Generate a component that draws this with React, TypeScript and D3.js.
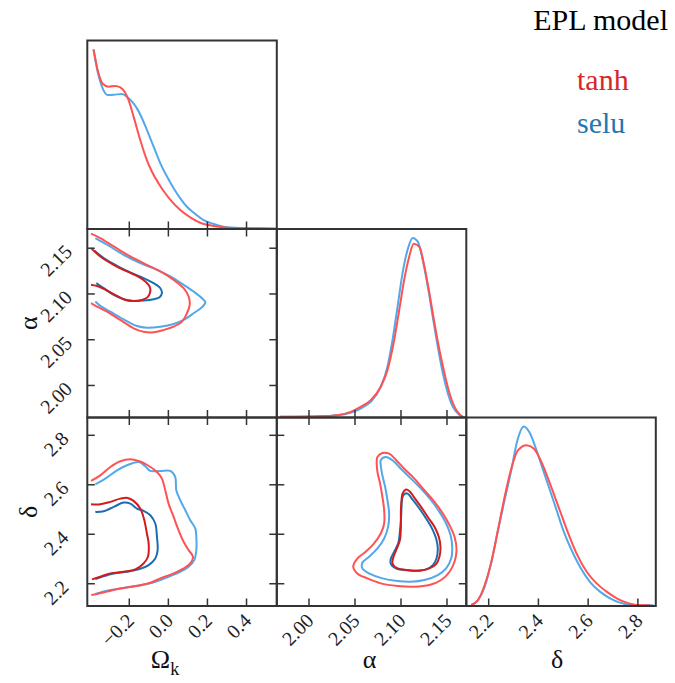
import React, { useRef, useEffect } from 'react';
import * as d3 from 'd3';

// axis ranges and ticks
const omegaDomain = [-0.415, 0.555];
const alphaDomain = [1.965, 2.171];
const deltaDomain = [2.11, 2.872];

const omegaTicks = [-0.2, 0.0, 0.2, 0.4];
const omegaTickLabels = ['\u22120.2', '0.0', '0.2', '0.4'];
const alphaTicks = [2.0, 2.05, 2.1, 2.15];
const alphaTickLabels = ['2.00', '2.05', '2.10', '2.15'];
const deltaTicks = [2.2, 2.4, 2.6, 2.8];
const deltaTickLabels = ['2.2', '2.4', '2.6', '2.8'];

const seriesNames = ['tanh', 'selu'];

// 1D marginals: [value, normalised density]
const tanhOmega = [[-0.383,1.0],[-0.362,0.886],[-0.335,0.808],[-0.306,0.793],[-0.272,0.797],[-0.246,0.789],[-0.224,0.765],[-0.204,0.719],[-0.178,0.626],[-0.144,0.496],[-0.110,0.384],[-0.084,0.319],[-0.050,0.254],[-0.016,0.199],[0.018,0.152],[0.061,0.106],[0.112,0.065],[0.163,0.035],[0.232,0.017],[0.317,0.006],[0.402,0.004],[0.487,0.002],[0.56,0.0]];
const seluOmega = [[-0.383,1.0],[-0.362,0.876],[-0.340,0.793],[-0.311,0.747],[-0.280,0.748],[-0.238,0.752],[-0.212,0.737],[-0.186,0.709],[-0.161,0.672],[-0.135,0.617],[-0.110,0.552],[-0.0755,0.459],[-0.041,0.366],[-0.007,0.292],[0.027,0.227],[0.061,0.171],[0.095,0.124],[0.138,0.084],[0.180,0.050],[0.232,0.028],[0.283,0.013],[0.368,0.006],[0.487,0.004],[0.56,0.002]];

const tanhAlpha = [[1.9686,0.0035],[2.0124,0.007],[2.0306,0.013],[2.0452,0.031],[2.0561,0.059],[2.0671,0.097],[2.078,0.171],[2.0853,0.264],[2.0926,0.432],[2.0981,0.599],[2.1035,0.767],[2.109,0.897],[2.1138,0.968],[2.12,0.950],[2.1254,0.842],[2.1309,0.693],[2.1364,0.525],[2.1418,0.376],[2.1473,0.246],[2.1528,0.134],[2.1582,0.059],[2.1637,0.018],[2.1674,0.0035]];
const seluAlpha = [[1.9686,0.0035],[2.0124,0.007],[2.0306,0.013],[2.0452,0.026],[2.0561,0.050],[2.0671,0.087],[2.078,0.171],[2.0853,0.283],[2.0908,0.432],[2.0963,0.618],[2.1017,0.804],[2.1072,0.935],[2.1127,1.0],[2.1181,0.981],[2.1236,0.879],[2.1291,0.730],[2.1345,0.562],[2.140,0.395],[2.1455,0.246],[2.151,0.134],[2.1564,0.059],[2.1619,0.022],[2.1655,0.007],[2.170,0.0]];

const tanhDelta = [[2.130,0.006],[2.157,0.033],[2.184,0.117],[2.211,0.247],[2.2375,0.423],[2.264,0.608],[2.291,0.766],[2.318,0.868],[2.352,0.896],[2.381,0.877],[2.412,0.803],[2.439,0.710],[2.466,0.608],[2.493,0.506],[2.520,0.404],[2.553,0.293],[2.594,0.191],[2.634,0.126],[2.674,0.080],[2.715,0.043],[2.755,0.019],[2.795,0.006],[2.849,0.004]];
const seluDelta = [[2.130,0.006],[2.157,0.033],[2.184,0.108],[2.211,0.247],[2.2375,0.423],[2.264,0.590],[2.291,0.757],[2.314,0.915],[2.341,1.0],[2.365,0.965],[2.392,0.868],[2.419,0.757],[2.446,0.646],[2.473,0.534],[2.4996,0.423],[2.533,0.312],[2.567,0.219],[2.607,0.135],[2.6475,0.080],[2.688,0.043],[2.728,0.019],[2.7685,0.006],[2.809,0.004],[2.8625,0.004]];

// 2D contours (68% inner, 95% outer): [x value, y value]
// Omega_k vs alpha (open at the left edge)
const tanhOmegaAlpha68 = [[-0.396,2.1501],[-0.3485,2.141],[-0.280,2.1319],[-0.212,2.1246],[-0.161,2.1198],[-0.118,2.1136],[-0.096,2.1081],[-0.0926,2.1027],[-0.106,2.0965],[-0.135,2.0935],[-0.178,2.0924],[-0.2205,2.0935],[-0.263,2.0979],[-0.314,2.1038],[-0.357,2.1081],[-0.396,2.11]];
const tanhOmegaAlpha95 = [[-0.396,2.1659],[-0.3485,2.1611],[-0.280,2.152],[-0.195,2.141],[-0.110,2.1319],[-0.041,2.1246],[0.027,2.1154],[0.078,2.1063],[0.1036,2.0972],[0.109,2.088],[0.095,2.0789],[0.0695,2.0698],[0.027,2.0643],[-0.024,2.0607],[-0.0755,2.0581],[-0.127,2.0588],[-0.178,2.0625],[-0.246,2.0716],[-0.314,2.0807],[-0.3655,2.0862],[-0.396,2.0899]];
const seluOmegaAlpha68 = [[-0.379,2.1476],[-0.331,2.1392],[-0.263,2.1308],[-0.195,2.1235],[-0.127,2.1173],[-0.0755,2.1118],[-0.041,2.1063],[-0.033,2.1008],[-0.045,2.0965],[-0.0755,2.0943],[-0.127,2.0928],[-0.178,2.0924],[-0.229,2.0943],[-0.280,2.099],[-0.331,2.1063],[-0.369,2.1118]];
const seluOmegaAlpha95 = [[-0.374,2.1611],[-0.314,2.1538],[-0.229,2.1428],[-0.144,2.1337],[-0.0585,2.1264],[0.010,2.1191],[0.078,2.11],[0.129,2.1027],[0.172,2.0954],[0.189,2.0906],[0.172,2.0855],[0.129,2.0789],[0.078,2.0716],[0.027,2.0672],[-0.041,2.0643],[-0.110,2.0632],[-0.161,2.065],[-0.229,2.0723],[-0.297,2.0807],[-0.3485,2.087],[-0.374,2.0917]];

// Omega_k vs delta (open at the left edge)
const tanhOmegaDelta68 = [[-0.396,2.5214],[-0.3485,2.5214],[-0.297,2.531],[-0.246,2.544],[-0.2086,2.547],[-0.178,2.535],[-0.144,2.504],[-0.123,2.457],[-0.110,2.403],[-0.101,2.363],[-0.1045,2.309],[-0.127,2.282],[-0.169,2.258],[-0.229,2.2485],[-0.297,2.2418],[-0.3485,2.2284],[-0.391,2.2176]];
const tanhOmegaDelta95 = [[-0.396,2.6155],[-0.3485,2.638],[-0.297,2.672],[-0.246,2.695],[-0.195,2.703],[-0.152,2.696],[-0.110,2.681],[-0.0585,2.652],[-0.033,2.625],[-0.016,2.578],[0.001,2.524],[0.027,2.470],[0.052,2.4166],[0.078,2.3695],[0.1036,2.336],[0.126,2.309],[0.112,2.282],[0.078,2.262],[0.027,2.2418],[-0.041,2.2217],[-0.0926,2.204],[-0.161,2.191],[-0.246,2.181],[-0.314,2.168],[-0.3655,2.1585],[-0.3945,2.1545]];
const seluOmegaDelta68 = [[-0.374,2.4905],[-0.331,2.493],[-0.280,2.5106],[-0.229,2.528],[-0.195,2.524],[-0.161,2.504],[-0.127,2.4945],[-0.0926,2.477],[-0.067,2.4435],[-0.0585,2.3897],[-0.055,2.336],[-0.067,2.302],[-0.101,2.2754],[-0.152,2.258],[-0.212,2.2485],[-0.280,2.2418],[-0.340,2.2284],[-0.374,2.219]];
const seluOmegaDelta95 = [[-0.374,2.602],[-0.323,2.625],[-0.263,2.6585],[-0.212,2.679],[-0.152,2.692],[-0.118,2.675],[-0.0926,2.656],[-0.041,2.656],[0.010,2.656],[0.035,2.632],[0.0405,2.578],[0.061,2.5375],[0.0865,2.497],[0.112,2.457],[0.138,2.423],[0.143,2.3897],[0.143,2.336],[0.1326,2.2956],[0.1036,2.2687],[0.061,2.2485],[0.010,2.231],[-0.041,2.215],[-0.0926,2.2015],[-0.161,2.192],[-0.246,2.181],[-0.314,2.172],[-0.374,2.1585]];

// alpha vs delta (closed)
const tanhAlphaDelta68 = [[2.1017,2.564],[2.1054,2.5806],[2.109,2.5752],[2.1145,2.5483],[2.1218,2.5106],[2.1291,2.470],[2.1364,2.430],[2.1411,2.3897],[2.1429,2.3494],[2.1418,2.309],[2.1382,2.2795],[2.1309,2.262],[2.120,2.2526],[2.1072,2.2553],[2.0963,2.262],[2.0908,2.282],[2.0919,2.309],[2.0955,2.3427],[2.0988,2.3762],[2.0999,2.430],[2.0999,2.497],[2.1006,2.5375]];
const tanhAlphaDelta95 = [[2.0744,2.7123],[2.0798,2.7284],[2.0871,2.7257],[2.0944,2.7015],[2.1035,2.665],[2.1145,2.625],[2.1254,2.578],[2.1364,2.531],[2.1455,2.4838],[2.1528,2.4367],[2.1582,2.3897],[2.1604,2.336],[2.1582,2.2889],[2.1528,2.2485],[2.1437,2.215],[2.1309,2.1948],[2.1145,2.1881],[2.0963,2.191],[2.078,2.2015],[2.0634,2.2217],[2.0525,2.2418],[2.0481,2.2687],[2.0525,2.302],[2.0616,2.3292],[2.0707,2.363],[2.078,2.403],[2.0817,2.4435],[2.0817,2.497],[2.0798,2.551],[2.0773,2.6047],[2.0744,2.652],[2.0736,2.692]];
const seluAlphaDelta68 = [[2.1017,2.551],[2.1043,2.564],[2.1072,2.564],[2.1127,2.5402],[2.120,2.504],[2.1273,2.4636],[2.1338,2.423],[2.1382,2.383],[2.140,2.3427],[2.1386,2.302],[2.1346,2.2754],[2.1273,2.258],[2.1163,2.2526],[2.1035,2.2553],[2.0944,2.262],[2.089,2.2795],[2.089,2.302],[2.0926,2.3292],[2.097,2.363],[2.0988,2.4098],[2.0999,2.457],[2.1006,2.5106],[2.101,2.5375]];
const seluAlphaDelta95 = [[2.078,2.699],[2.0835,2.7123],[2.0908,2.699],[2.0999,2.665],[2.1108,2.625],[2.1218,2.5846],[2.1327,2.5375],[2.1418,2.4905],[2.1491,2.4435],[2.1539,2.3964],[2.1557,2.3494],[2.1546,2.302],[2.1491,2.262],[2.140,2.235],[2.1254,2.215],[2.1108,2.2082],[2.0963,2.2109],[2.0798,2.2217],[2.0653,2.2418],[2.058,2.262],[2.058,2.2848],[2.0653,2.309],[2.0744,2.3427],[2.0817,2.383],[2.086,2.430],[2.0871,2.4838],[2.0853,2.5375],[2.0828,2.591],[2.0798,2.638],[2.078,2.679]];

const colors = {
  tanh: { light: '#ff5252', dark: '#d01c1c', text: '#d62728' },
  selu: { light: '#52a8e8', dark: '#1c6db0', text: '#1f77b4' },
};

const params = [
  { key: 'omega', domain: omegaDomain, ticks: omegaTicks, labels: omegaTickLabels },
  { key: 'alpha', domain: alphaDomain, ticks: alphaTicks, labels: alphaTickLabels },
  { key: 'delta', domain: deltaDomain, ticks: deltaTicks, labels: deltaTickLabels },
];

const marginals = {
  omega: { tanh: tanhOmega, selu: seluOmega },
  alpha: { tanh: tanhAlpha, selu: seluAlpha },
  delta: { tanh: tanhDelta, selu: seluDelta },
};

const contours = {
  'omega-alpha': { tanh: [tanhOmegaAlpha68, tanhOmegaAlpha95], selu: [seluOmegaAlpha68, seluOmegaAlpha95], closed: false },
  'omega-delta': { tanh: [tanhOmegaDelta68, tanhOmegaDelta95], selu: [seluOmegaDelta68, seluOmegaDelta95], closed: false },
  'alpha-delta': { tanh: [tanhAlphaDelta68, tanhAlphaDelta95], selu: [seluAlphaDelta68, seluAlphaDelta95], closed: true },
};

const W = 675, H = 683;
const X0 = 87.3, Y0 = 40.5, CW = 189.5, CH = 188.5;
const FONT = "'Liberation Serif', Tinos, 'Times New Roman', Times, 'DejaVu Serif', serif";
const TICK_FS = 20;
const SPINE = '#333333';

// rough width of a tick label in Times-like digits
const textWidth = (s, fs) => {
  let w = 0;
  for (const ch of s) w += ch === '.' ? 0.25 : ch === '\u2212' ? 0.564 : 0.5;
  return w * fs;
};

const App = () => {
  const svgRef = useRef();

  useEffect(() => {
    const svg = d3.select(svgRef.current);
    svg.selectAll('*').remove();
    const defs = svg.append('defs');

    params.forEach((px, c) => {
      params.forEach((py, r) => {
        if (c > r) return;
        const x0 = X0 + c * CW, y0 = Y0 + r * CH;
        const clipId = `clip-${r}-${c}`;
        defs.append('clipPath').attr('id', clipId)
          .append('rect').attr('x', x0).attr('y', y0).attr('width', CW).attr('height', CH);

        const xs = d3.scaleLinear().domain(px.domain).range([x0, x0 + CW]);
        const g = svg.append('g');
        const plot = g.append('g').attr('clip-path', `url(#${clipId})`);
        const is1D = r === c;
        let ys;

        if (is1D) {
          ys = d3.scaleLinear().domain([0, 1.05]).range([y0 + CH, y0]);
          const line = d3.line().x(d => xs(d[0])).y(d => ys(d[1])).curve(d3.curveMonotoneX);
          ['selu', 'tanh'].forEach(s => {
            plot.append('path')
              .attr('d', line(marginals[px.key][s]))
              .attr('fill', 'none')
              .attr('stroke', colors[s].light)
              .attr('stroke-width', 2)
              .attr('stroke-linejoin', 'round');
          });
        } else {
          ys = d3.scaleLinear().domain(py.domain).range([y0 + CH, y0]);
          const set = contours[`${px.key}-${py.key}`];
          const line = d3.line().x(d => xs(d[0])).y(d => ys(d[1]))
            .curve(set.closed ? d3.curveCatmullRomClosed.alpha(0.5) : d3.curveCatmullRom.alpha(0.5));
          ['selu', 'tanh'].forEach(s => {
            const [inner, outer] = set[s];
            plot.append('path').attr('d', line(outer)).attr('fill', 'none')
              .attr('stroke', colors[s].light).attr('stroke-width', 2);
            plot.append('path').attr('d', line(inner)).attr('fill', 'none')
              .attr('stroke', colors[s].dark).attr('stroke-width', 2);
          });
        }

        // inward ticks
        const tl = 7.5;
        px.ticks.forEach(t => {
          const x = xs(t);
          g.append('line').attr('x1', x).attr('x2', x).attr('y1', y0 + CH).attr('y2', y0 + CH - tl)
            .attr('stroke', SPINE).attr('stroke-width', 1.5);
          if (!is1D) {
            g.append('line').attr('x1', x).attr('x2', x).attr('y1', y0).attr('y2', y0 + tl)
              .attr('stroke', SPINE).attr('stroke-width', 1.5);
          }
        });
        if (!is1D) {
          py.ticks.forEach(t => {
            const y = ys(t);
            g.append('line').attr('x1', x0).attr('x2', x0 + tl).attr('y1', y).attr('y2', y)
              .attr('stroke', SPINE).attr('stroke-width', 1.5);
            g.append('line').attr('x1', x0 + CW).attr('x2', x0 + CW - tl).attr('y1', y).attr('y2', y)
              .attr('stroke', SPINE).attr('stroke-width', 1.5);
          });
        }

        g.append('rect').attr('x', x0).attr('y', y0).attr('width', CW).attr('height', CH)
          .attr('fill', 'none').attr('stroke', SPINE).attr('stroke-width', 2);

        // bottom tick labels
        if (r === params.length - 1) {
          px.ticks.forEach((t, i) => {
            const ax = xs(t) + 1, ay = y0 + CH + 11;
            svg.append('text')
              .attr('x', ax).attr('y', ay)
              .attr('transform', `rotate(-45, ${ax}, ${ay})`)
              .attr('text-anchor', 'end')
              .attr('dominant-baseline', 'central')
              .style('font-family', FONT).attr('font-size', TICK_FS).attr('fill', '#222')
              .text(px.labels[i]);
          });
        }
        // left tick labels
        if (c === 0 && !is1D) {
          py.ticks.forEach((t, i) => {
            const lab = py.labels[i];
            const L = textWidth(lab, TICK_FS);
            const cx = 56;
            const cy = ys(t) - 5 + (L + 0.66 * TICK_FS) * 0.3535;
            svg.append('text')
              .attr('x', cx).attr('y', cy)
              .attr('transform', `rotate(-45, ${cx}, ${cy})`)
              .attr('text-anchor', 'middle')
              .attr('dominant-baseline', 'central')
              .style('font-family', FONT).attr('font-size', TICK_FS).attr('fill', '#222')
              .text(lab);
          });
        }
      });
    });

    // axis titles
    const labY = 668;
    const om = svg.append('text').attr('x', 165).attr('y', labY)
      .attr('text-anchor', 'middle').style('font-family', FONT).attr('font-size', 26).attr('fill', '#111');
    om.append('tspan').text('\u03a9');
    om.append('tspan').attr('dy', 7).attr('font-size', 18).text('k');
    svg.append('text').attr('x', X0 + CW * 1.5 - 2).attr('y', labY)
      .attr('text-anchor', 'middle').style('font-family', FONT).attr('font-size', 26).attr('fill', '#111')
      .text('\u03b1');
    svg.append('text').attr('x', X0 + CW * 2.5 - 4).attr('y', labY)
      .attr('text-anchor', 'middle').style('font-family', FONT).attr('font-size', 26).attr('fill', '#111')
      .text('\u03b4');
    [['\u03b1', 1], ['\u03b4', 2]].forEach(([s, r]) => {
      const cy = Y0 + CH * (r + 0.5);
      svg.append('text').attr('x', 28).attr('y', cy)
        .attr('transform', `rotate(-90, 28, ${cy})`)
        .attr('text-anchor', 'middle').attr('dominant-baseline', 'central')
        .style('font-family', FONT).attr('font-size', 26).attr('fill', '#111')
        .text(s);
    });

    // title + legend
    svg.append('text').attr('x', 668).attr('y', 30).attr('text-anchor', 'end')
      .style('font-family', FONT).attr('font-size', 30).attr('fill', '#000').text('EPL model');
    seriesNames.forEach((s, i) => {
      svg.append('text').attr('x', 577).attr('y', 90 + i * 43)
        .style('font-family', FONT).attr('font-size', 30).attr('fill', colors[s].text).text(s);
    });
  }, []);

  return (
    <svg ref={svgRef} width={W} height={H}
      style={{ position: 'absolute', left: 0, top: 0, background: '#fff', display: 'block' }} />
  );
};

export default App;
